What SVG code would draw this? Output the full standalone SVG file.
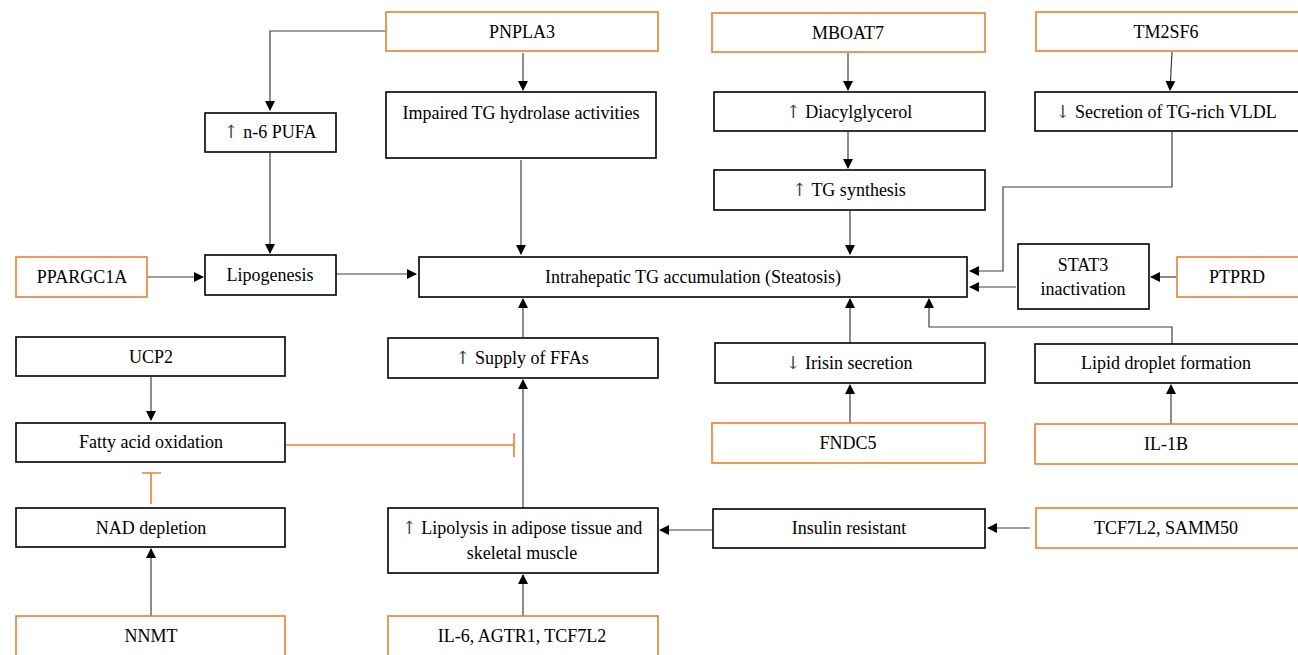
<svg xmlns="http://www.w3.org/2000/svg" width="1298" height="655" viewBox="0 0 1298 655">
<defs>
<marker id="ah" markerWidth="10" markerHeight="10" refX="9" refY="5" orient="auto" markerUnits="userSpaceOnUse">
<path d="M0,0 L10,5 L0,10 Z" fill="#000"/>
</marker>
<style>
.b{fill:#fff;stroke:#000;stroke-width:1.6}
.o{fill:#fff;stroke:#ED7D31;stroke-width:1.6}
.t{font-family:"Liberation Serif","Times New Roman",serif;font-size:18px;fill:#000;text-anchor:middle}
.ar{font-family:"DejaVu Serif",serif;fill:#444}
.c{fill:none;stroke:#404040;stroke-width:1.2}
.a{marker-end:url(#ah)}
.inh{fill:none;stroke:#ED7D31;stroke-width:1.6}
</style>
</defs>
<rect width="1298" height="655" fill="#fff"/>

<g id="connectors">
<path class="c a" d="M386,31 H270 V110"/>
<path class="c a" d="M523,53 V90"/>
<path class="c a" d="M848,53 V90"/>
<path class="c a" d="M1172,52 L1170,90"/>
<path class="c a" d="M848,132 V168"/>
<path class="c a" d="M270,153 V253"/>
<path class="c a" d="M521,160 V254"/>
<path class="c a" d="M850,211 V254"/>
<path class="c a" d="M1172,132 V187 H1003 V271 H970"/>
<path class="c a" d="M1016,287 H970"/>
<path class="c a" d="M1176,277 H1151"/>
<path class="c a" d="M148,277 H203"/>
<path class="c a" d="M336,274 H416"/>
<path class="c a" d="M523,337 V299"/>
<path class="c a" d="M850,343 V299"/>
<path class="c a" d="M1172,344 V327 H929 V299"/>
<path class="c a" d="M151,377 V420"/>
<path class="c a" d="M523,508 V380"/>
<path class="c a" d="M850,423 V385"/>
<path class="c a" d="M1171,424 V385"/>
<path class="c a" d="M712,530 H660"/>
<path class="c a" d="M1030,528 H988"/>
<path class="c a" d="M151,616 V549"/>
<path class="c a" d="M523,616 V575"/>
<path class="inh" d="M286,445 H514 M514,433 V457"/>
<path class="inh" d="M151,504 V473 M142,473 H161"/>
</g>

<g id="PNPLA3"><rect class="o" x="386" y="12" width="272" height="39"/><text class="t" x="522" y="38">PNPLA3</text></g>
<g id="MBOAT7"><rect class="o" x="712" y="13" width="273" height="39"/><text class="t" x="848" y="39">MBOAT7</text></g>
<g id="TM2SF6"><rect class="o" x="1036" y="12" width="266" height="39"/><text class="t" x="1166" y="38">TM2SF6</text></g>
<g id="n6PUFA"><rect class="b" x="205" y="113" width="131" height="39"/><text class="t" x="270" y="138"><tspan class="ar">↑</tspan> n-6 PUFA</text></g>
<g id="Impaired"><rect class="b" x="386" y="92" width="270" height="66"/><text class="t" x="521" y="119">Impaired TG hydrolase activities</text></g>
<g id="Diacylglycerol"><rect class="b" x="714" y="92" width="271" height="39"/><text class="t" x="849" y="118"><tspan class="ar">↑</tspan> Diacylglycerol</text></g>
<g id="Secretion"><rect class="b" x="1035" y="92" width="267" height="39"/><text class="t" x="1166" y="118"><tspan class="ar">↓</tspan> Secretion of TG-rich VLDL</text></g>
<g id="TGsynthesis"><rect class="b" x="714" y="170" width="271" height="40"/><text class="t" x="849" y="196"><tspan class="ar">↑</tspan> TG synthesis</text></g>
<g id="PPARGC1A"><rect class="o" x="16" y="257" width="131" height="40"/><text class="t" x="82" y="283">PPARGC1A</text></g>
<g id="Lipogenesis"><rect class="b" x="205" y="255" width="131" height="40"/><text class="t" x="270" y="281">Lipogenesis</text></g>
<g id="Intrahepatic"><rect class="b" x="419" y="257" width="548" height="40"/><text class="t" x="693" y="283">Intrahepatic TG accumulation (Steatosis)</text></g>
<g id="STAT3"><rect class="b" x="1018" y="244" width="131" height="65"/><text class="t" x="1083" y="271">STAT3</text><text class="t" x="1083" y="295">inactivation</text></g>
<g id="PTPRD"><rect class="o" x="1177" y="257" width="125" height="40"/><text class="t" x="1237" y="283">PTPRD</text></g>
<g id="UCP2"><rect class="b" x="16" y="337" width="269" height="39"/><text class="t" x="151" y="363">UCP2</text></g>
<g id="SupplyFFAs"><rect class="b" x="388" y="338" width="270" height="40"/><text class="t" x="522" y="364"><tspan class="ar">↑</tspan> Supply of FFAs</text></g>
<g id="Irisin"><rect class="b" x="715" y="343" width="270" height="40"/><text class="t" x="849" y="369"><tspan class="ar">↓</tspan> Irisin secretion</text></g>
<g id="LipidDroplet"><rect class="b" x="1035" y="344" width="267" height="39"/><text class="t" x="1166" y="369">Lipid droplet formation</text></g>
<g id="FattyAcid"><rect class="b" x="16" y="423" width="269" height="39"/><text class="t" x="151" y="448">Fatty acid oxidation</text></g>
<g id="FNDC5"><rect class="o" x="712" y="423" width="273" height="40"/><text class="t" x="848" y="449">FNDC5</text></g>
<g id="IL1B"><rect class="o" x="1035" y="424" width="267" height="40"/><text class="t" x="1166" y="450">IL-1B</text></g>
<g id="NAD"><rect class="b" x="16" y="508" width="269" height="39"/><text class="t" x="151" y="534">NAD depletion</text></g>
<g id="Lipolysis"><rect class="b" x="388" y="508" width="270" height="65"/><text class="t" x="522" y="534"><tspan class="ar">↑</tspan> Lipolysis in adipose tissue and</text><text class="t" x="522" y="559">skeletal muscle</text></g>
<g id="Insulin"><rect class="b" x="713" y="509" width="272" height="39"/><text class="t" x="849" y="534">Insulin resistant</text></g>
<g id="TCF7L2SAMM50"><rect class="o" x="1036" y="508" width="266" height="40"/><text class="t" x="1166" y="534">TCF7L2, SAMM50</text></g>
<g id="NNMT"><rect class="o" x="16" y="616" width="269" height="60"/><text class="t" x="151" y="642">NNMT</text></g>
<g id="IL6"><rect class="o" x="388" y="616" width="270" height="60"/><text class="t" x="522" y="642">IL-6, AGTR1, TCF7L2</text></g>
</svg>
